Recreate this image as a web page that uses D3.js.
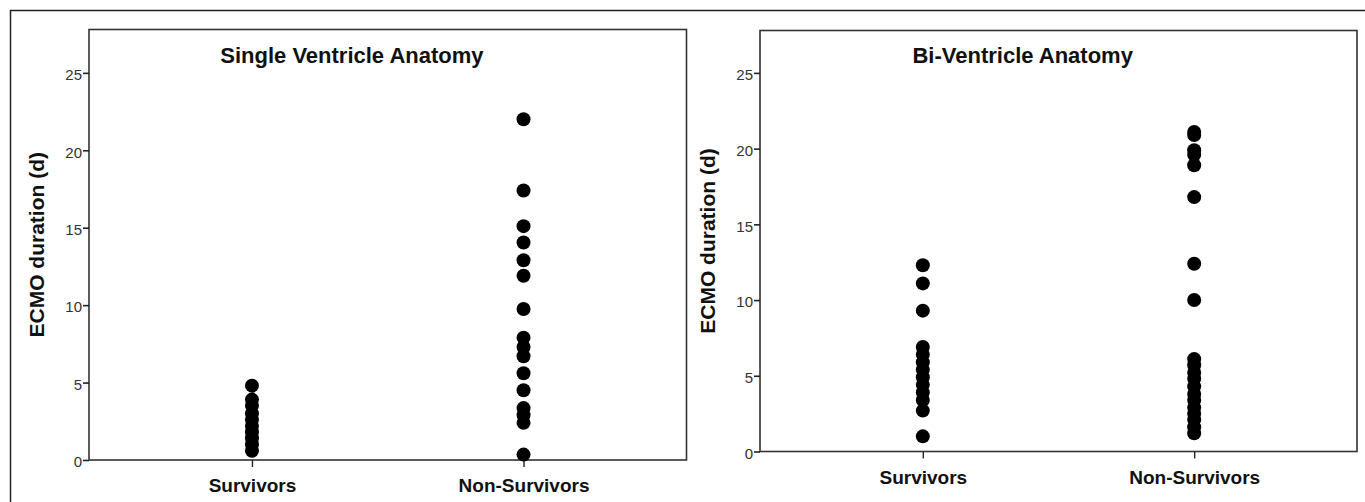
<!DOCTYPE html>
<html>
<head>
<meta charset="utf-8">
<script src="https://cdnjs.cloudflare.com/ajax/libs/d3/7.8.5/d3.min.js"></script>
<style>
  body { margin: 0; background: #fff; }
  svg { display: block; font-family: "Liberation Sans", Arial, sans-serif; }
</style>
</head>
<body>
<svg id="chart" width="1365" height="502"></svg>
<script>
// ---------------- data ----------------
var groups = ["Survivors", "Non-Survivors"];
var yTicks = [0, 5, 10, 15, 20, 25];

// Single ventricle anatomy (ECMO days)
var svSurvivors = [4.8, 3.9, 3.5, 3.0, 2.6, 2.2, 1.8, 1.4, 1.0, 0.6];
var svNonSurvivors = [22.0, 17.4, 15.1, 14.05, 12.9, 11.9, 9.75, 7.9, 7.3, 6.7, 5.6, 4.5, 3.35, 2.9, 2.4, 0.35];

// Bi-ventricle anatomy (ECMO days)
var bvSurvivors = [12.3, 11.1, 9.3, 6.9, 6.4, 5.9, 5.4, 4.9, 4.4, 3.9, 3.4, 2.7, 1.0];
var bvNonSurvivors = [21.1, 20.9, 19.9, 19.6, 18.9, 16.8, 12.4, 10.0, 6.1, 5.7, 5.2, 4.8, 4.3, 3.8, 3.4, 2.9, 2.5, 2.1, 1.6, 1.2];

var svg = d3.select('#chart');

// outer frame (top and left edges visible)
svg.append('path')
    .attr('d', 'M10.5,502 L10.5,10.5 L1365,10.5')
    .attr('fill', 'none')
    .attr('stroke', '#222')
    .attr('stroke-width', 1.5);

var panels = [
    {title: 'Single Ventricle Anatomy', x0: 89, x1: 686.5, top: 29.5, bottom: 460, labelX: 44,
     series: [svSurvivors, svNonSurvivors]},
    {title: 'Bi-Ventricle Anatomy', x0: 760, x1: 1357, top: 30.5, bottom: 451.5, labelX: 715,
     series: [bvSurvivors, bvNonSurvivors]}
];

panels.forEach(function(p){

    var x = d3.scalePoint()
        .domain(groups)
        .range([p.x0, p.x1])
        .padding(0.6);

    var y = d3.scaleLinear()
        .domain([0, 27.8])
        .range([p.bottom, p.top]);

    var g = svg.append('g');

    // plot box
    g.append('rect')
        .attr('x', p.x0)
        .attr('y', p.top)
        .attr('width', p.x1 - p.x0)
        .attr('height', p.bottom - p.top)
        .attr('fill', 'none')
        .attr('stroke', '#333')
        .attr('stroke-width', 1.6);

    // y axis
    var yAxis = g.append('g')
        .attr('transform', `translate(${p.x0},0)`)
        .call(d3.axisLeft(y).tickValues(yTicks).tickSize(6).tickPadding(1));
    yAxis.select('.domain').remove();
    yAxis.selectAll('line').attr('stroke', '#222').attr('stroke-width', 1.6);
    yAxis.selectAll('text')
        .style('font-size', '15px')
        .style('fill', '#333')
        .attr('dy', '0.45em');

    // x axis
    var xAxis = g.append('g')
        .attr('transform', `translate(0,${p.bottom})`)
        .call(d3.axisBottom(x).tickSize(7).tickPadding(12));
    xAxis.select('.domain').remove();
    xAxis.selectAll('line').attr('stroke', '#222').attr('stroke-width', 1.4);
    xAxis.selectAll('text')
        .style('font-size', '19px')
        .style('font-weight', 'bold')
        .style('fill', '#111');

    // title
    g.append('text')
        .attr('x', p.x0 + (p.x1 - p.x0) * 0.44)
        .attr('y', 63)
        .attr('text-anchor', 'middle')
        .style('font-size', '22px')
        .style('font-weight', 'bold')
        .style('fill', '#111')
        .text(p.title);

    // y label
    g.append('text')
        .attr('transform', `translate(${p.labelX},${(p.top + p.bottom) / 2}) rotate(-90)`)
        .attr('text-anchor', 'middle')
        .style('font-size', '21px')
        .style('font-weight', 'bold')
        .style('fill', '#111')
        .text('ECMO duration (d)');

    // dots
    p.series.forEach(function(vals, i){
        g.selectAll(null)
            .data(vals)
            .enter()
            .append('circle')
                .attr('cx', x(groups[i]))
                .attr('cy', d => y(d))
                .attr('r', 7)
                .attr('fill', '#000');
    });
});
</script>
</body>
</html>
